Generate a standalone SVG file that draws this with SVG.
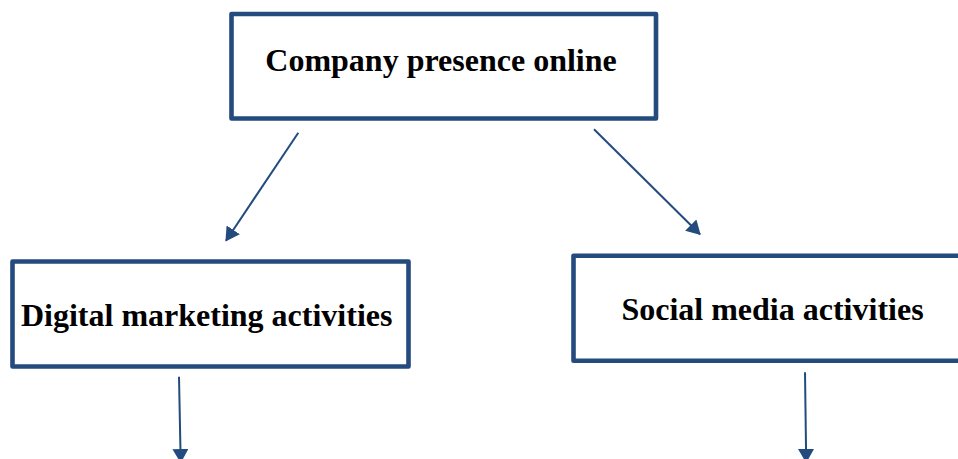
<svg xmlns="http://www.w3.org/2000/svg" width="958" height="459" viewBox="0 0 958 459">
<style>
.box{fill:#fff;stroke:#234B7E;stroke-width:4.6;stroke-linejoin:round}
.lbl{font-family:"Liberation Serif","Times New Roman",serif;font-weight:bold;font-size:32px;fill:#000;text-anchor:middle}
.conn{stroke:#234B7E;stroke-width:2;fill:none;marker-end:url(#ah)}
</style>
<defs>
<marker id="ah" viewBox="0 0 14 16" refX="13" refY="8" markerWidth="14" markerHeight="16" markerUnits="userSpaceOnUse" orient="auto">
<path d="M0,0 L14,8 L0,16 z" fill="#234B7E"/>
</marker>
</defs>
<rect width="958" height="459" fill="#fff"/>
<g id="node-company">
<rect class="box" x="231.5" y="14" width="424.5" height="104.5"/>
<text class="lbl" x="441" y="71">Company presence online</text>
</g>
<g id="node-digital">
<rect class="box" x="12.5" y="261.5" width="396" height="105"/>
<text class="lbl" x="206.7" y="326">Digital marketing activities</text>
</g>
<g id="node-social">
<rect class="box" x="573.5" y="255.8" width="420" height="105"/>
<text class="lbl" x="772.5" y="320">Social media activities</text>
</g>
<g id="connectors">
<line class="conn" x1="298.3" y1="132.7" x2="226" y2="240.7"/>
<line class="conn" x1="594" y1="129.3" x2="700" y2="234.3"/>
<line class="conn" x1="179" y1="376.7" x2="180.7" y2="462"/>
<line class="conn" x1="805" y1="372.3" x2="806.2" y2="462"/>
</g>
</svg>
